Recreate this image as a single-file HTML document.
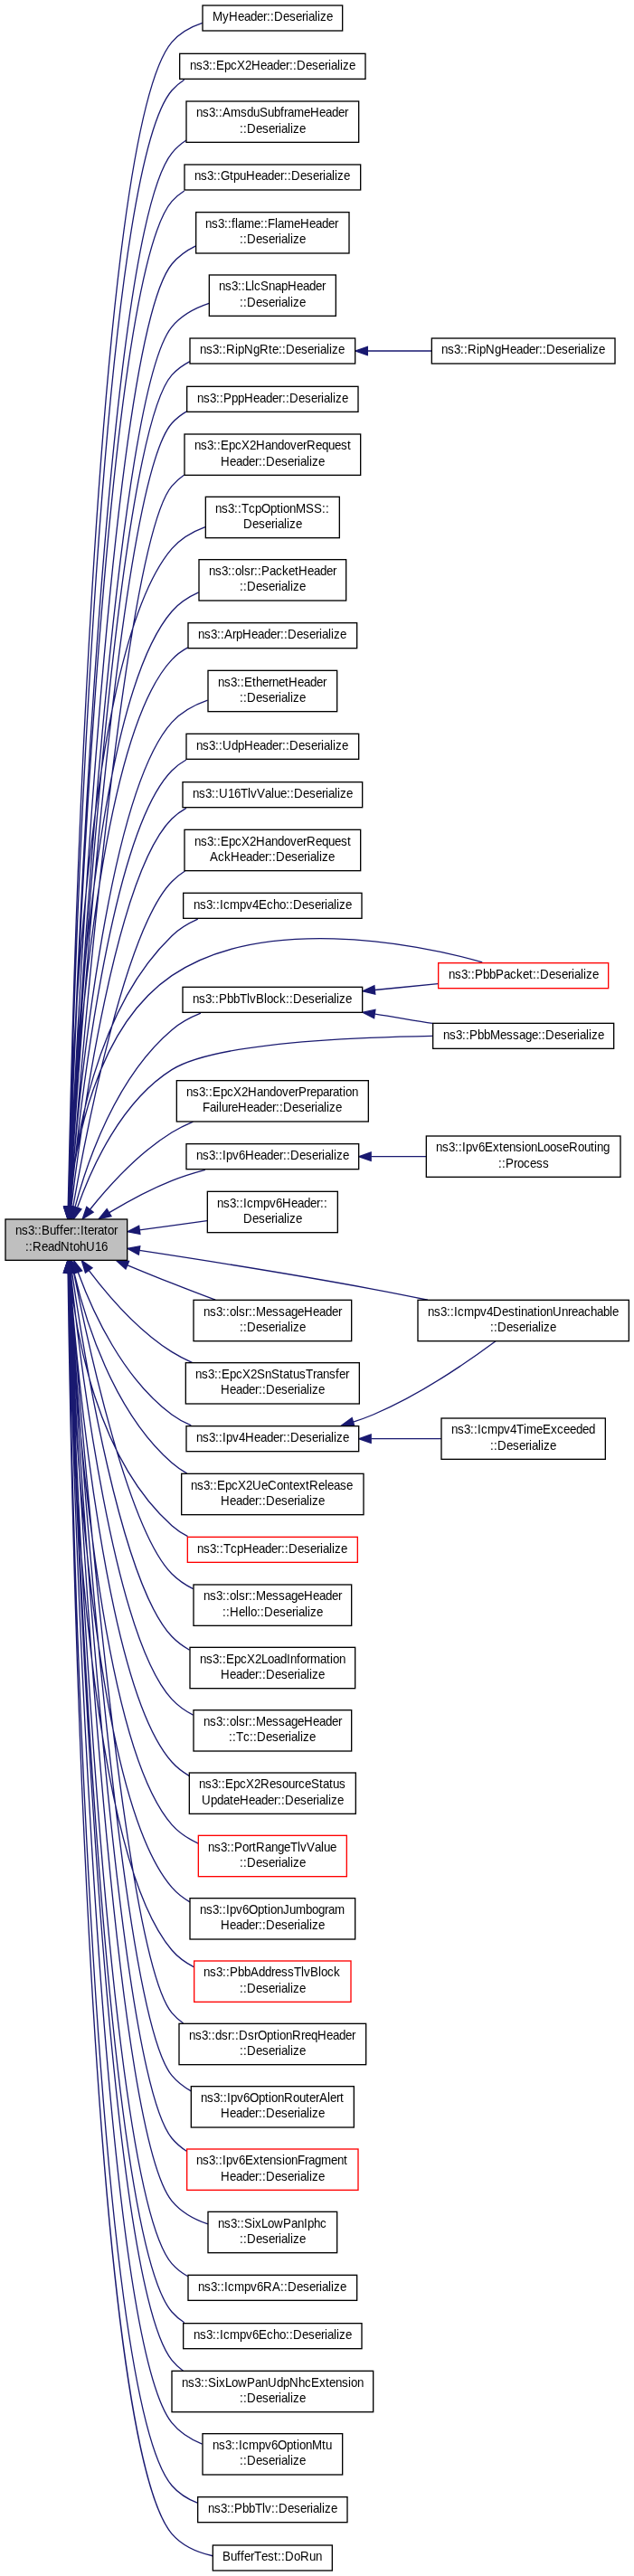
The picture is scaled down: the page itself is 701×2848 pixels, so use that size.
<!DOCTYPE html>
<html><head><meta charset="utf-8"><title>ns3::Buffer::Iterator::ReadNtohU16</title>
<style>
html,body{margin:0;padding:0;background:#fff;}
svg{display:block;will-change:transform;}
text{font-family:"Liberation Sans",sans-serif;font-size:10px;fill:#000;stroke:none;}
</style></head><body>
<svg width="701" height="2848" viewBox="0 0 525.75 2136">
<g fill="none" stroke="#191970">
<path d="M56.52,1000.23C59.62,847.12 77.85,110.22 142.5,35 149.13,27.29 158.18,22.28 167.86,19.08 M56.61,1000.87C60.18,852.89 80.37,147.03 142.5,75 145.48,71.54 148.96,68.63 152.75,66.17 M56.85,1000.63C61.54,857.25 86.12,196.63 142.5,127 145.9,122.8 149.98,119.26 154.47,116.29 M56.9,1000.47C61.73,860.44 86.42,231.39 142.5,167 145.5,163.55 148.98,160.65 152.79,158.21 M57.17,1000.51C63.14,865.97 91.86,280.86 142.5,219 147.83,212.49 154.77,207.59 162.37,203.9 M57.38,1000.65C64.1,871.74 95.07,328.51 142.5,271 150.34,261.5 161.62,255.42 173.33,251.54 M57.49,1000.45C64.48,875.24 95.76,363.6 142.5,311 146.71,306.26 151.83,302.55 157.44,299.66 M57.65,1001.02C65.23,881.12 98.21,400.36 142.5,351 146.04,347.05 150.21,343.81 154.77,341.17 M58.04,1001.03C66.86,887.16 103.1,449.47 142.5,403 145.5,399.44 148.99,396.37 152.8,393.71 M56.41,1000.82C58.49,898.6 70.88,538.72 142.5,455 149.72,446.56 159.67,440.82 170.15,436.93 M56.86,1000.81C60.45,904.63 77.24,582.16 142.5,507 148.51,500.08 156.33,494.99 164.77,491.23 M57.1,1000.68C61.37,908.88 79.82,613.55 142.5,547 146.34,542.92 150.86,539.62 155.77,536.94 M57.95,1000.46C64.52,915.42 88.49,659.09 142.5,599 150.33,590.29 161.05,584.47 172.17,580.6 M58.38,1000.54C65.86,920.69 91.48,691 142.5,639 146.01,635.42 150.04,632.44 154.4,629.97 M59.15,1000.44C68.18,926.24 96.51,724.75 142.5,679 146.05,675.47 150.12,672.52 154.49,670.06 M60.49,1001.15C71.95,935.63 104.11,770.11 142.5,731 145.76,727.67 149.43,724.77 153.38,722.24 M57.48,1000.82C61.74,949.48 78.31,837.9 142.5,776 148.64,770.08 156.14,765.55 164.08,762.1 M62.23,1000.93C72.43,962.64 96.35,893.02 142.5,854 149.47,848.11 157.81,843.6 166.46,840.16 M57.44,1000.99C61.64,952.77 78.08,852.82 142.5,809 215.8,759.14 342.09,780.94 399.92,797.98 M64.24,1001.09C75.89,968.09 100.56,913.29 142.5,887 177.34,865.16 284.71,860.35 358.67,859.03 M74.74,1002.73C90.73,982.82 115.38,955.72 142.5,939 148,935.61 153.97,932.63 160.12,930.01 M90.59,1005.47C106,996.23 124.66,986.06 142.5,979 151.27,975.53 160.81,972.55 170.19,970.02 M115.74,1019.87C133.99,1017.39 153.94,1014.67 171.74,1012.25 M115.62,1036.83C167.08,1044.65 243.34,1056.69 309.5,1069 324.15,1071.72 339.73,1074.84 354.71,1077.94 M105.78,1049.07C117.77,1054.04 130.57,1059.28 142.5,1064 154.17,1068.62 166.82,1073.46 178.64,1077.9 M73.73,1053.42C89.55,1074.33 114.48,1103.3 142.5,1121 147.83,1124.37 153.64,1127.33 159.61,1129.93 M64.68,1054.82C76.77,1087.79 101.88,1143.05 142.5,1173 147.36,1176.59 152.78,1179.54 158.46,1181.96 M61.37,1054.94C70.78,1095.12 94.02,1170.54 142.5,1213 146.34,1216.36 150.62,1219.29 155.14,1221.84 M57.83,1055.26C62.66,1104.71 80.11,1209.24 142.5,1265 146.46,1268.54 150.93,1271.47 155.7,1273.91 M61.09,1054.81C73.4,1117.1 106.47,1269 142.5,1305 147.59,1310.1 153.67,1314.21 160.19,1317.51 M59.75,1055.29C69.98,1126.03 100.45,1312.88 142.5,1357 146.75,1361.46 151.75,1365.15 157.16,1368.22 M58.69,1055.28C66.92,1133.55 94.22,1356.59 142.5,1409 147.49,1414.41 153.58,1418.71 160.19,1422.11 M57.87,1055.21C64.27,1140.45 87.93,1400.19 142.5,1461 146.61,1465.58 151.52,1469.36 156.87,1472.48 M57.24,1055.39C61.96,1147.44 81.67,1443.78 142.5,1513 148.45,1519.77 156.14,1524.79 164.43,1528.52 M56.72,1055.36C59.85,1153.65 75.32,1487.26 142.5,1565 146.72,1569.89 151.85,1573.86 157.47,1577.1 M56.29,1055.27C57.93,1159.42 68.94,1530.66 142.5,1617 147.56,1622.94 153.98,1627.55 160.98,1631.11 M57.94,1054.97C66.48,1170.67 102.11,1621.2 142.5,1669 145.3,1672.33 148.53,1675.24 152.05,1677.78 M57.65,1054.98C65.32,1176.44 98.9,1668.87 142.5,1721 146.92,1726.31 152.42,1730.55 158.46,1733.93 M57.43,1055.33C64.33,1182.95 95.81,1716.49 142.5,1773 146.04,1777.28 150.28,1780.87 154.94,1783.88 M57.22,1055.51C63.36,1188.87 92.61,1764.15 142.5,1825 150.12,1834.29 161.03,1840.31 172.44,1844.2 M56.93,1055.15C61.89,1193.23 87.15,1813.54 142.5,1877 146.28,1881.33 150.82,1884.81 155.8,1887.59 M56.79,1055.07C61.2,1196.9 84.54,1850.24 142.5,1917 145.5,1920.45 148.97,1923.36 152.78,1925.8 M56.78,1055.75C61.14,1202.58 84.43,1885.06 142.5,1957 145.24,1960.39 148.41,1963.34 151.89,1965.92 M56.63,1055.37C60.31,1206.26 81.13,1932.6 142.5,2009 148.99,2017.08 157.97,2022.69 167.64,2026.58 M56.41,1055.41C59.01,1211.34 75.19,1982.41 142.5,2061 148.16,2067.6 155.59,2072.23 163.68,2075.43 M56.32,1055.45C58.45,1215.02 72.58,2019.11 142.5,2101 151.02,2110.98 163.58,2116.43 176.35,2119.31 M304.81,291C322.16,291 340.51,291 357.75,291 M310.91,820.85C328.27,819.17 346.38,817.41 363.17,815.78 M311.05,840.83C326.83,843.05 343.23,846.36 358.69,848.54 M307.83,959C322.78,959 338.38,959 353.29,959 M292.9,1179.09C298.59,1177.27 304.2,1175.25 309.5,1173 347.56,1156.88 387.22,1129.67 411.02,1112.02 M307.86,1193C327.1,1193 347.42,1193 365.96,1193"/>
</g>
<g fill="#191970" stroke="#191970">
<polygon points="60.01,1000.68 56.31,1010.61 53.01,1000.54"/>
<polygon points="60.11,1001 56.37,1010.92 53.11,1000.84"/>
<polygon points="60.35,1000.88 56.53,1010.76 53.35,1000.66"/>
<polygon points="60.39,1000.87 56.55,1010.75 53.39,1000.64"/>
<polygon points="60.66,1000.93 56.72,1010.77 53.66,1000.62"/>
<polygon points="60.86,1001.04 56.85,1010.85 53.87,1000.68"/>
<polygon points="60.97,1000.92 56.92,1010.71 53.98,1000.53"/>
<polygon points="54.16,1000.8 57.03,1011 61.15,1001.24"/>
<polygon points="54.55,1000.76 57.27,1011 61.53,1001.3"/>
<polygon points="59.91,1001.01 56.22,1010.95 52.91,1000.88"/>
<polygon points="60.36,1001.03 56.5,1010.9 53.36,1000.78"/>
<polygon points="60.59,1001 56.65,1010.84 53.6,1000.69"/>
<polygon points="61.43,1000.92 57.19,1010.63 54.45,1000.39"/>
<polygon points="61.84,1001.13 57.45,1010.77 54.87,1000.5"/>
<polygon points="62.57,1001.31 57.91,1010.82 55.62,1000.48"/>
<polygon points="57.04,1000.55 58.79,1011 63.94,1001.74"/>
<polygon points="60.96,1001.1 56.74,1010.81 53.98,1000.58"/>
<polygon points="65.56,1002.01 59.71,1010.84 58.78,1000.29"/>
<polygon points="60.93,1001.29 56.68,1011 53.95,1000.76"/>
<polygon points="67.42,1002.62 60.91,1010.98 60.78,1000.39"/>
<polygon points="77.36,1005.06 68.44,1010.77 71.85,1000.74"/>
<polygon points="92.29,1008.54 81.93,1010.78 88.63,1002.57"/>
<polygon points="116.17,1023.34 105.79,1021.22 115.23,1016.41"/>
<polygon points="115.03,1040.28 105.67,1035.32 116.08,1033.36"/>
<polygon points="104.25,1052.22 96.37,1045.14 106.94,1045.76"/>
<polygon points="70.86,1055.41 67.73,1045.29 76.49,1051.26"/>
<polygon points="61.37,1055.95 61.35,1045.35 67.97,1053.62"/>
<polygon points="57.93,1055.58 59.18,1045.06 64.77,1054.06"/>
<polygon points="54.32,1055.29 56.94,1045.03 61.29,1054.68"/>
<polygon points="64.52,1054.14 59.17,1045 57.65,1055.49"/>
<polygon points="56.28,1055.74 58.33,1045.35 63.21,1054.76"/>
<polygon points="55.2,1055.53 57.65,1045.23 62.16,1054.82"/>
<polygon points="54.37,1055.27 57.13,1045.04 61.35,1054.76"/>
<polygon points="53.74,1055.37 56.74,1045.21 60.73,1055.02"/>
<polygon points="53.21,1055.17 56.41,1045.07 60.21,1054.96"/>
<polygon points="52.79,1055.28 56.15,1045.24 59.79,1055.18"/>
<polygon points="61.43,1054.72 57.21,1045 54.45,1055.23"/>
<polygon points="61.15,1054.76 57.03,1045 54.16,1055.2"/>
<polygon points="53.93,1055.4 56.89,1045.22 60.92,1055.02"/>
<polygon points="53.71,1055.48 56.76,1045.33 60.71,1055.16"/>
<polygon points="53.43,1055.13 56.57,1045.01 60.42,1054.88"/>
<polygon points="53.3,1055.15 56.49,1045.05 60.29,1054.94"/>
<polygon points="53.27,1055.48 56.48,1045.38 60.27,1055.27"/>
<polygon points="53.12,1055.22 56.38,1045.14 60.12,1055.05"/>
<polygon points="52.91,1055.32 56.25,1045.26 59.91,1055.21"/>
<polygon points="52.82,1055.13 56.19,1045.09 59.82,1055.04"/>
<polygon points="304.74,294.5 294.74,291 304.74,287.5"/>
<polygon points="311.08,824.35 300.79,821.84 310.4,817.39"/>
<polygon points="310.2,844.25 300.79,839.39 311.18,837.32"/>
<polygon points="307.61,962.5 297.61,959 307.61,955.5"/>
<polygon points="293.85,1182.46 283.27,1181.97 291.85,1175.75"/>
<polygon points="307.61,1196.5 297.61,1193 307.61,1189.5"/>
</g>
<rect x="4.5" y="1011" width="101" height="34" fill="#bfbfbf" stroke="black"/>
<rect x="168" y="4.5" width="116" height="21" fill="white" stroke="black"/>
<rect x="149" y="44.5" width="154" height="21" fill="white" stroke="black"/>
<rect x="154.5" y="84" width="143" height="34" fill="white" stroke="black"/>
<rect x="153" y="136.5" width="146" height="21" fill="white" stroke="black"/>
<rect x="162.5" y="176" width="127" height="34" fill="white" stroke="black"/>
<rect x="173.5" y="228" width="105" height="34" fill="white" stroke="black"/>
<rect x="157.5" y="280.5" width="137" height="21" fill="white" stroke="black"/>
<rect x="155" y="320.5" width="142" height="21" fill="white" stroke="black"/>
<rect x="153" y="360" width="146" height="34" fill="white" stroke="black"/>
<rect x="170.5" y="412" width="111" height="34" fill="white" stroke="black"/>
<rect x="165" y="464" width="122" height="34" fill="white" stroke="black"/>
<rect x="156" y="516.5" width="140" height="21" fill="white" stroke="black"/>
<rect x="172.5" y="556" width="107" height="34" fill="white" stroke="black"/>
<rect x="154.5" y="608.5" width="143" height="21" fill="white" stroke="black"/>
<rect x="151.5" y="648.5" width="149" height="21" fill="white" stroke="black"/>
<rect x="153" y="688" width="146" height="34" fill="white" stroke="black"/>
<rect x="152" y="740.5" width="148" height="21" fill="white" stroke="black"/>
<rect x="151.5" y="818.5" width="149" height="21" fill="white" stroke="black"/>
<rect x="363.5" y="798.5" width="141" height="21" fill="white" stroke="red"/>
<rect x="359" y="848.5" width="150" height="21" fill="white" stroke="black"/>
<rect x="146.5" y="896" width="159" height="34" fill="white" stroke="black"/>
<rect x="154.5" y="948.5" width="143" height="21" fill="white" stroke="black"/>
<rect x="172" y="988" width="108" height="34" fill="white" stroke="black"/>
<rect x="346.5" y="1078" width="175" height="34" fill="white" stroke="black"/>
<rect x="160.5" y="1078" width="131" height="34" fill="white" stroke="black"/>
<rect x="154" y="1130" width="144" height="34" fill="white" stroke="black"/>
<rect x="154.5" y="1182.5" width="143" height="21" fill="white" stroke="black"/>
<rect x="150.5" y="1222" width="151" height="34" fill="white" stroke="black"/>
<rect x="155.5" y="1274.5" width="141" height="21" fill="white" stroke="red"/>
<rect x="160.5" y="1314" width="131" height="34" fill="white" stroke="black"/>
<rect x="157.5" y="1366" width="137" height="34" fill="white" stroke="black"/>
<rect x="160.5" y="1418" width="131" height="34" fill="white" stroke="black"/>
<rect x="157" y="1470" width="138" height="34" fill="white" stroke="black"/>
<rect x="164.5" y="1522" width="123" height="34" fill="white" stroke="red"/>
<rect x="157.5" y="1574" width="137" height="34" fill="white" stroke="black"/>
<rect x="161" y="1626" width="130" height="34" fill="white" stroke="red"/>
<rect x="148.5" y="1678" width="155" height="34" fill="white" stroke="black"/>
<rect x="158.5" y="1730" width="135" height="34" fill="white" stroke="black"/>
<rect x="155" y="1782" width="142" height="34" fill="white" stroke="red"/>
<rect x="172.5" y="1834" width="107" height="34" fill="white" stroke="black"/>
<rect x="156" y="1886.5" width="140" height="21" fill="white" stroke="black"/>
<rect x="152" y="1926.5" width="148" height="21" fill="white" stroke="black"/>
<rect x="142.5" y="1966" width="167" height="34" fill="white" stroke="black"/>
<rect x="168" y="2018" width="116" height="34" fill="white" stroke="black"/>
<rect x="164" y="2070.5" width="124" height="21" fill="white" stroke="black"/>
<rect x="176.5" y="2110.5" width="99" height="21" fill="white" stroke="black"/>
<rect x="358" y="280.5" width="152" height="21" fill="white" stroke="black"/>
<rect x="353.5" y="942" width="161" height="34" fill="white" stroke="black"/>
<rect x="366" y="1176" width="136" height="34" fill="white" stroke="black"/>
<g class="t">
<text transform="matrix(1 0 0 1.03 0 1023.75)" x="12.75 18 23.25 28.5 31.5 34.5 41.25 46.5 49.5 52.5 57.75 60.75 63.75 66.75 69.75 72.75 78 81 86.25 89.25 94.5">ns3::Buffer::Iterator</text>
<text transform="matrix(1 0 0 1.03 0 1037.25)" x="21 24 27 34.5 39.75 45 50.25 57.75 60.75 66 71.25 78.75 84">::ReadNtohU16</text>
<text transform="matrix(1 0 0 1.03 0 17.25)" x="176.25 184.5 189.75 197.25 202.5 207.75 213 218.25 221.25 224.25 227.25 234.75 240 245.25 250.5 253.5 255.75 261 263.25 265.5 270.75">MyHeader::Deserialize</text>
<text transform="matrix(1 0 0 1.03 0 57.75)" x="157.5 162.75 168 173.25 176.25 179.25 186 191.25 196.5 203.25 208.5 216 221.25 226.5 231.75 237 240 243 246 253.5 258.75 264 269.25 272.25 274.5 279.75 282 284.25 289.5">ns3::EpcX2Header::Deserialize</text>
<text transform="matrix(1 0 0 1.03 0 96.75)" x="162.75 168 173.25 178.5 181.5 184.5 191.25 199.5 204.75 210 215.25 222 227.25 232.5 235.5 238.5 243.75 252 257.25 264.75 270 275.25 280.5 285.75">ns3::AmsduSubframeHeader</text>
<text transform="matrix(1 0 0 1.03 0 110.25)" x="198.75 201.75 204.75 212.25 217.5 222.75 228 231 233.25 238.5 240.75 243 248.25">::Deserialize</text>
<text transform="matrix(1 0 0 1.03 0 149.25)" x="161.25 166.5 171.75 177 180 183 190.5 193.5 198.75 204 211.5 216.75 222 227.25 232.5 235.5 238.5 241.5 249 254.25 259.5 264.75 267.75 270 275.25 277.5 279.75 285">ns3::GtpuHeader::Deserialize</text>
<text transform="matrix(1 0 0 1.03 0 189)" x="170.25 175.5 180.75 186 189 192 195 197.25 202.5 210.75 216 219 222 228 230.25 235.5 243.75 249 256.5 261.75 267 272.25 277.5">ns3::flame::FlameHeader</text>
<text transform="matrix(1 0 0 1.03 0 201.75)" x="198.75 201.75 204.75 212.25 217.5 222.75 228 231 233.25 238.5 240.75 243 248.25">::Deserialize</text>
<text transform="matrix(1 0 0 1.03 0 240.75)" x="181.5 186.75 192 197.25 200.25 203.25 208.5 210.75 216 222.75 228 233.25 238.5 246 251.25 256.5 261.75 267">ns3::LlcSnapHeader</text>
<text transform="matrix(1 0 0 1.03 0 254.25)" x="198.75 201.75 204.75 212.25 217.5 222.75 228 231 233.25 238.5 240.75 243 248.25">::Deserialize</text>
<text transform="matrix(1 0 0 1.03 0 293.25)" x="165.75 171 176.25 181.5 184.5 187.5 195 197.25 202.5 210 215.25 222.75 225.75 231 234 237 244.5 249.75 255 260.25 263.25 265.5 270.75 273 275.25 280.5">ns3::RipNgRte::Deserialize</text>
<text transform="matrix(1 0 0 1.03 0 333.75)" x="163.5 168.75 174 179.25 182.25 185.25 192 197.25 202.5 210 215.25 220.5 225.75 231 234 237 240 247.5 252.75 258 263.25 266.25 268.5 273.75 276 278.25 283.5">ns3::PppHeader::Deserialize</text>
<text transform="matrix(1 0 0 1.03 0 372.75)" x="161.25 166.5 171.75 177 180 183 189.75 195 200.25 207 212.25 219.75 225 230.25 235.5 240.75 246 251.25 254.25 261.75 267 272.25 277.5 282.75 288">ns3::EpcX2HandoverRequest</text>
<text transform="matrix(1 0 0 1.03 0 386.25)" x="183 190.5 195.75 201 206.25 211.5 214.5 217.5 220.5 228 233.25 238.5 243.75 246.75 249 254.25 256.5 258.75 264">Header::Deserialize</text>
<text transform="matrix(1 0 0 1.03 0 425.25)" x="178.5 183.75 189 194.25 197.25 200.25 206.25 211.5 216.75 224.25 229.5 232.5 234.75 240 245.25 253.5 260.25 267 270">ns3::TcpOptionMSS::</text>
<text transform="matrix(1 0 0 1.03 0 438)" x="201.75 209.25 214.5 219.75 225 228 230.25 235.5 237.75 240 245.25">Deserialize</text>
<text transform="matrix(1 0 0 1.03 0 477)" x="173.25 178.5 183.75 189 192 195 200.25 202.5 207.75 210.75 213.75 216.75 223.5 228.75 234 239.25 244.5 247.5 255 260.25 265.5 270.75 276">ns3::olsr::PacketHeader</text>
<text transform="matrix(1 0 0 1.03 0 489.75)" x="198.75 201.75 204.75 212.25 217.5 222.75 228 231 233.25 238.5 240.75 243 248.25">::Deserialize</text>
<text transform="matrix(1 0 0 1.03 0 529.5)" x="164.25 169.5 174.75 180 183 186 192.75 195.75 201 208.5 213.75 219 224.25 229.5 232.5 235.5 238.5 246 251.25 256.5 261.75 264.75 267 272.25 274.5 276.75 282">ns3::ArpHeader::Deserialize</text>
<text transform="matrix(1 0 0 1.03 0 569.25)" x="180.75 186 191.25 196.5 199.5 202.5 209.25 212.25 217.5 222.75 225.75 231 236.25 239.25 246.75 252 257.25 262.5 267.75">ns3::EthernetHeader</text>
<text transform="matrix(1 0 0 1.03 0 582)" x="198.75 201.75 204.75 212.25 217.5 222.75 228 231 233.25 238.5 240.75 243 248.25">::Deserialize</text>
<text transform="matrix(1 0 0 1.03 0 621.75)" x="162.75 168 173.25 178.5 181.5 184.5 192 197.25 202.5 210 215.25 220.5 225.75 231 234 237 240 247.5 252.75 258 263.25 266.25 268.5 273.75 276 278.25 283.5">ns3::UdpHeader::Deserialize</text>
<text transform="matrix(1 0 0 1.03 0 661.5)" x="159.75 165 170.25 175.5 178.5 181.5 189 194.25 199.5 205.5 207.75 213 219.75 225 227.25 232.5 237.75 240.75 243.75 251.25 256.5 261.75 267 270 272.25 277.5 279.75 282 287.25">ns3::U16TlvValue::Deserialize</text>
<text transform="matrix(1 0 0 1.03 0 701.25)" x="161.25 166.5 171.75 177 180 183 189.75 195 200.25 207 212.25 219.75 225 230.25 235.5 240.75 246 251.25 254.25 261.75 267 272.25 277.5 282.75 288">ns3::EpcX2HandoverRequest</text>
<text transform="matrix(1 0 0 1.03 0 714)" x="174 180.75 186 191.25 198.75 204 209.25 214.5 219.75 222.75 225.75 228.75 236.25 241.5 246.75 252 255 257.25 262.5 264.75 267 272.25">AckHeader::Deserialize</text>
<text transform="matrix(1 0 0 1.03 0 753.75)" x="160.5 165.75 171 176.25 179.25 182.25 185.25 190.5 198.75 204 209.25 214.5 221.25 226.5 231.75 237 240 243 250.5 255.75 261 266.25 269.25 271.5 276.75 279 281.25 286.5">ns3::Icmpv4Echo::Deserialize</text>
<text transform="matrix(1 0 0 1.03 0 831.75)" x="159.75 165 170.25 175.5 178.5 181.5 188.25 193.5 198.75 204.75 207 212.25 219 221.25 226.5 231.75 237 240 243 250.5 255.75 261 266.25 269.25 271.5 276.75 279 281.25 286.5">ns3::PbbTlvBlock::Deserialize</text>
<text transform="matrix(1 0 0 1.03 0 811.5)" x="372 377.25 382.5 387.75 390.75 393.75 400.5 405.75 411 417.75 423 428.25 433.5 438.75 441.75 444.75 447.75 455.25 460.5 465.75 471 474 476.25 481.5 483.75 486 491.25">ns3::PbbPacket::Deserialize</text>
<text transform="matrix(1 0 0 1.03 0 861.75)" x="367.5 372.75 378 383.25 386.25 389.25 396 401.25 406.5 414.75 420 425.25 430.5 435.75 441 446.25 449.25 452.25 459.75 465 470.25 475.5 478.5 480.75 486 488.25 490.5 495.75">ns3::PbbMessage::Deserialize</text>
<text transform="matrix(1 0 0 1.03 0 909)" x="154.5 159.75 165 170.25 173.25 176.25 183 188.25 193.5 200.25 205.5 213 218.25 223.5 228.75 234 239.25 244.5 247.5 254.25 257.25 262.5 267.75 273 276 281.25 284.25 286.5 291.75">ns3::EpcX2HandoverPreparation</text>
<text transform="matrix(1 0 0 1.03 0 921.75)" x="168 174 179.25 181.5 183.75 189 192 197.25 204.75 210 215.25 220.5 225.75 228.75 231.75 234.75 242.25 247.5 252.75 258 261 263.25 268.5 270.75 273 278.25">FailureHeader::Deserialize</text>
<text transform="matrix(1 0 0 1.03 0 961.5)" x="162.75 168 173.25 178.5 181.5 184.5 187.5 192.75 198 203.25 210.75 216 221.25 226.5 231.75 234.75 237.75 240.75 248.25 253.5 258.75 264 267 269.25 274.5 276.75 279 284.25">ns3::Ipv6Header::Deserialize</text>
<text transform="matrix(1 0 0 1.03 0 1001.25)" x="180 185.25 190.5 195.75 198.75 201.75 204.75 210 218.25 223.5 228.75 234 241.5 246.75 252 257.25 262.5 265.5 268.5">ns3::Icmpv6Header::</text>
<text transform="matrix(1 0 0 1.03 0 1014)" x="201.75 209.25 214.5 219.75 225 228 230.25 235.5 237.75 240 245.25">Deserialize</text>
<text transform="matrix(1 0 0 1.03 0 1091.25)" x="354.75 360 365.25 370.5 373.5 376.5 379.5 384.75 393 398.25 403.5 408.75 416.25 421.5 426.75 429.75 432 437.25 442.5 445.5 447.75 453 458.25 465.75 471 474 479.25 484.5 489.75 495 500.25 505.5 507.75">ns3::Icmpv4DestinationUnreachable</text>
<text transform="matrix(1 0 0 1.03 0 1104)" x="406.5 409.5 412.5 420 425.25 430.5 435.75 438.75 441 446.25 448.5 450.75 456">::Deserialize</text>
<text transform="matrix(1 0 0 1.03 0 1091.25)" x="168.75 174 179.25 184.5 187.5 190.5 195.75 198 203.25 206.25 209.25 212.25 220.5 225.75 231 236.25 241.5 246.75 252 259.5 264.75 270 275.25 280.5">ns3::olsr::MessageHeader</text>
<text transform="matrix(1 0 0 1.03 0 1104)" x="198.75 201.75 204.75 212.25 217.5 222.75 228 231 233.25 238.5 240.75 243 248.25">::Deserialize</text>
<text transform="matrix(1 0 0 1.03 0 1143)" x="162 167.25 172.5 177.75 180.75 183.75 190.5 195.75 201 207.75 213 219.75 225 231.75 234.75 240 243 248.25 253.5 259.5 262.5 267.75 273 278.25 281.25 286.5">ns3::EpcX2SnStatusTransfer</text>
<text transform="matrix(1 0 0 1.03 0 1155.75)" x="183 190.5 195.75 201 206.25 211.5 214.5 217.5 220.5 228 233.25 238.5 243.75 246.75 249 254.25 256.5 258.75 264">Header::Deserialize</text>
<text transform="matrix(1 0 0 1.03 0 1195.5)" x="162.75 168 173.25 178.5 181.5 184.5 187.5 192.75 198 203.25 210.75 216 221.25 226.5 231.75 234.75 237.75 240.75 248.25 253.5 258.75 264 267 269.25 274.5 276.75 279 284.25">ns3::Ipv4Header::Deserialize</text>
<text transform="matrix(1 0 0 1.03 0 1235.25)" x="158.25 163.5 168.75 174 177 180 186.75 192 197.25 204 209.25 216.75 222 229.5 234.75 240 243 248.25 253.5 256.5 264 269.25 271.5 276.75 282 287.25">ns3::EpcX2UeContextRelease</text>
<text transform="matrix(1 0 0 1.03 0 1248)" x="183 190.5 195.75 201 206.25 211.5 214.5 217.5 220.5 228 233.25 238.5 243.75 246.75 249 254.25 256.5 258.75 264">Header::Deserialize</text>
<text transform="matrix(1 0 0 1.03 0 1287.75)" x="163.5 168.75 174 179.25 182.25 185.25 191.25 196.5 201.75 209.25 214.5 219.75 225 230.25 233.25 236.25 239.25 246.75 252 257.25 262.5 265.5 267.75 273 275.25 277.5 282.75">ns3::TcpHeader::Deserialize</text>
<text transform="matrix(1 0 0 1.03 0 1326.75)" x="168.75 174 179.25 184.5 187.5 190.5 195.75 198 203.25 206.25 209.25 212.25 220.5 225.75 231 236.25 241.5 246.75 252 259.5 264.75 270 275.25 280.5">ns3::olsr::MessageHeader</text>
<text transform="matrix(1 0 0 1.03 0 1340.25)" x="184.5 187.5 190.5 198 203.25 205.5 207.75 213 216 219 226.5 231.75 237 242.25 245.25 247.5 252.75 255 257.25 262.5">::Hello::Deserialize</text>
<text transform="matrix(1 0 0 1.03 0 1379.25)" x="165.75 171 176.25 181.5 184.5 187.5 194.25 199.5 204.75 211.5 216.75 222 227.25 232.5 237.75 240.75 246 249 254.25 257.25 265.5 270.75 273.75 276 281.25">ns3::EpcX2LoadInformation</text>
<text transform="matrix(1 0 0 1.03 0 1392)" x="183 190.5 195.75 201 206.25 211.5 214.5 217.5 220.5 228 233.25 238.5 243.75 246.75 249 254.25 256.5 258.75 264">Header::Deserialize</text>
<text transform="matrix(1 0 0 1.03 0 1431)" x="168.75 174 179.25 184.5 187.5 190.5 195.75 198 203.25 206.25 209.25 212.25 220.5 225.75 231 236.25 241.5 246.75 252 259.5 264.75 270 275.25 280.5">ns3::olsr::MessageHeader</text>
<text transform="matrix(1 0 0 1.03 0 1443.75)" x="189.75 192.75 195.75 201.75 207 210 213 220.5 225.75 231 236.25 239.25 241.5 246.75 249 251.25 256.5">::Tc::Deserialize</text>
<text transform="matrix(1 0 0 1.03 0 1482.75)" x="165 170.25 175.5 180.75 183.75 186.75 193.5 198.75 204 210.75 216 223.5 228.75 234 239.25 244.5 247.5 252.75 258 264.75 267.75 273 276 281.25">ns3::EpcX2ResourceStatus</text>
<text transform="matrix(1 0 0 1.03 0 1496.25)" x="167.25 174.75 180 185.25 190.5 193.5 198.75 206.25 211.5 216.75 222 227.25 230.25 233.25 236.25 243.75 249 254.25 259.5 262.5 264.75 270 272.25 274.5 279.75">UpdateHeader::Deserialize</text>
<text transform="matrix(1 0 0 1.03 0 1535.25)" x="172.5 177.75 183 188.25 191.25 194.25 201 206.25 209.25 212.25 219.75 225 230.25 235.5 240.75 246.75 249 254.25 261 266.25 268.5 273.75">ns3::PortRangeTlvValue</text>
<text transform="matrix(1 0 0 1.03 0 1548)" x="198.75 201.75 204.75 212.25 217.5 222.75 228 231 233.25 238.5 240.75 243 248.25">::Deserialize</text>
<text transform="matrix(1 0 0 1.03 0 1587)" x="165.75 171 176.25 181.5 184.5 187.5 190.5 195.75 201 206.25 213.75 219 222 224.25 229.5 234.75 240 245.25 253.5 258.75 264 269.25 272.25 277.5">ns3::Ipv6OptionJumbogram</text>
<text transform="matrix(1 0 0 1.03 0 1599.75)" x="183 190.5 195.75 201 206.25 211.5 214.5 217.5 220.5 228 233.25 238.5 243.75 246.75 249 254.25 256.5 258.75 264">Header::Deserialize</text>
<text transform="matrix(1 0 0 1.03 0 1638.75)" x="168.75 174 179.25 184.5 187.5 190.5 197.25 202.5 207.75 214.5 219.75 225 228 233.25 238.5 243.75 249.75 252 257.25 264 266.25 271.5 276.75">ns3::PbbAddressTlvBlock</text>
<text transform="matrix(1 0 0 1.03 0 1652.25)" x="198.75 201.75 204.75 212.25 217.5 222.75 228 231 233.25 238.5 240.75 243 248.25">::Deserialize</text>
<text transform="matrix(1 0 0 1.03 0 1691.25)" x="156.75 162 167.25 172.5 175.5 178.5 183.75 189 192 195 198 205.5 210.75 213.75 221.25 226.5 229.5 231.75 237 242.25 249.75 252.75 258 263.25 270.75 276 281.25 286.5 291.75">ns3::dsr::DsrOptionRreqHeader</text>
<text transform="matrix(1 0 0 1.03 0 1704)" x="198.75 201.75 204.75 212.25 217.5 222.75 228 231 233.25 238.5 240.75 243 248.25">::Deserialize</text>
<text transform="matrix(1 0 0 1.03 0 1743)" x="166.5 171.75 177 182.25 185.25 188.25 191.25 196.5 201.75 207 214.5 219.75 222.75 225 230.25 235.5 243 248.25 253.5 256.5 261.75 264.75 271.5 273.75 279 282">ns3::Ipv6OptionRouterAlert</text>
<text transform="matrix(1 0 0 1.03 0 1755.75)" x="183 190.5 195.75 201 206.25 211.5 214.5 217.5 220.5 228 233.25 238.5 243.75 246.75 249 254.25 256.5 258.75 264">Header::Deserialize</text>
<text transform="matrix(1 0 0 1.03 0 1794.75)" x="162.75 168 173.25 178.5 181.5 184.5 187.5 192.75 198 203.25 210 215.25 218.25 223.5 228.75 234 236.25 241.5 246.75 252.75 255.75 261 266.25 274.5 279.75 285">ns3::Ipv6ExtensionFragment</text>
<text transform="matrix(1 0 0 1.03 0 1808.25)" x="183 190.5 195.75 201 206.25 211.5 214.5 217.5 220.5 228 233.25 238.5 243.75 246.75 249 254.25 256.5 258.75 264">Header::Deserialize</text>
<text transform="matrix(1 0 0 1.03 0 1847.25)" x="180.75 186 191.25 196.5 199.5 202.5 209.25 211.5 216.75 222 227.25 234.75 241.5 246.75 252 255 260.25 265.5">ns3::SixLowPanIphc</text>
<text transform="matrix(1 0 0 1.03 0 1860)" x="198.75 201.75 204.75 212.25 217.5 222.75 228 231 233.25 238.5 240.75 243 248.25">::Deserialize</text>
<text transform="matrix(1 0 0 1.03 0 1899.75)" x="164.25 169.5 174.75 180 183 186 189 194.25 202.5 207.75 213 218.25 225.75 232.5 235.5 238.5 246 251.25 256.5 261.75 264.75 267 272.25 274.5 276.75 282">ns3::Icmpv6RA::Deserialize</text>
<text transform="matrix(1 0 0 1.03 0 1939.5)" x="160.5 165.75 171 176.25 179.25 182.25 185.25 190.5 198.75 204 209.25 214.5 221.25 226.5 231.75 237 240 243 250.5 255.75 261 266.25 269.25 271.5 276.75 279 281.25 286.5">ns3::Icmpv6Echo::Deserialize</text>
<text transform="matrix(1 0 0 1.03 0 1979.25)" x="150.75 156 161.25 166.5 169.5 172.5 179.25 181.5 186.75 192 197.25 204.75 211.5 216.75 222 229.5 234.75 240 247.5 252.75 258 264.75 270 273 278.25 283.5 288.75 291 296.25">ns3::SixLowPanUdpNhcExtension</text>
<text transform="matrix(1 0 0 1.03 0 1992)" x="198.75 201.75 204.75 212.25 217.5 222.75 228 231 233.25 238.5 240.75 243 248.25">::Deserialize</text>
<text transform="matrix(1 0 0 1.03 0 2031)" x="176.25 181.5 186.75 192 195 198 201 206.25 214.5 219.75 225 230.25 237.75 243 246 248.25 253.5 258.75 267 270">ns3::Icmpv6OptionMtu</text>
<text transform="matrix(1 0 0 1.03 0 2043.75)" x="198.75 201.75 204.75 212.25 217.5 222.75 228 231 233.25 238.5 240.75 243 248.25">::Deserialize</text>
<text transform="matrix(1 0 0 1.03 0 2083.5)" x="172.5 177.75 183 188.25 191.25 194.25 201 206.25 211.5 217.5 219.75 225 228 231 238.5 243.75 249 254.25 257.25 259.5 264.75 267 269.25 274.5">ns3::PbbTlv::Deserialize</text>
<text transform="matrix(1 0 0 1.03 0 2123.25)" x="184.5 191.25 196.5 199.5 202.5 207.75 210.75 216.75 222 227.25 230.25 233.25 236.25 243.75 249 256.5 261.75">BufferTest::DoRun</text>
<text transform="matrix(1 0 0 1.03 0 293.25)" x="366 371.25 376.5 381.75 384.75 387.75 395.25 397.5 402.75 410.25 415.5 423 428.25 433.5 438.75 444 447 450 453 460.5 465.75 471 476.25 479.25 481.5 486.75 489 491.25 496.5">ns3::RipNgHeader::Deserialize</text>
<text transform="matrix(1 0 0 1.03 0 954.75)" x="361.5 366.75 372 377.25 380.25 383.25 386.25 391.5 396.75 402 408.75 414 417 422.25 427.5 432.75 435 440.25 445.5 450.75 456 461.25 466.5 471.75 479.25 484.5 489.75 492.75 495 500.25">ns3::Ipv6ExtensionLooseRouting</text>
<text transform="matrix(1 0 0 1.03 0 968.25)" x="413.25 416.25 419.25 426 429 434.25 439.5 444.75 450">::Process</text>
<text transform="matrix(1 0 0 1.03 0 1188.75)" x="374.25 379.5 384.75 390 393 396 399 404.25 412.5 417.75 423 428.25 434.25 436.5 444.75 450 456.75 462 467.25 472.5 477.75 483 488.25">ns3::Icmpv4TimeExceeded</text>
<text transform="matrix(1 0 0 1.03 0 1202.25)" x="406.5 409.5 412.5 420 425.25 430.5 435.75 438.75 441 446.25 448.5 450.75 456">::Deserialize</text>
</g>
</svg>
</body></html>
